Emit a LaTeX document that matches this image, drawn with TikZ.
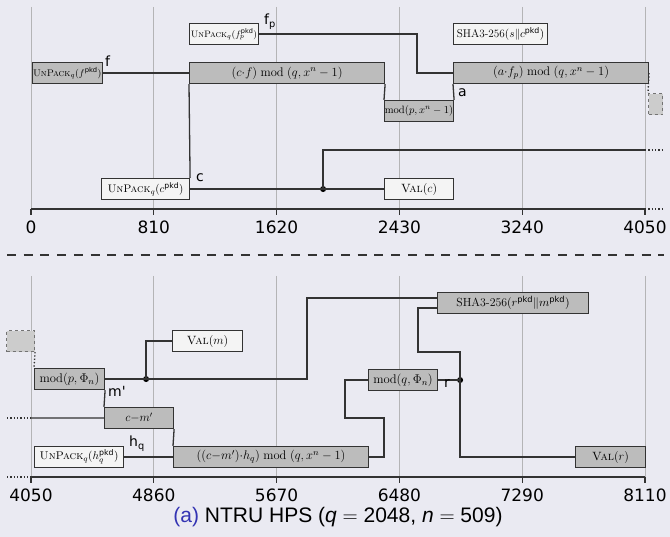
\RequirePackage{fix-cm}
\documentclass[tikz,border=0pt]{standalone}
\usepackage{fontspec}
\setsansfont{DejaVu Sans}
\newfontfamily\capfont{Liberation Sans}
\usetikzlibrary{calc}

\definecolor{bgcol}{RGB}{234,234,242}
\definecolor{gridcol}{RGB}{180,180,182}
\definecolor{opfill}{RGB}{188,188,188}
\definecolor{inwhite}{RGB}{244,244,244}
\definecolor{capblue}{RGB}{51,51,179}

\newcommand{\unpack}{\textsc{UnPack}}
\newcommand{\val}{\textsc{Val}}
\newcommand{\pkd}{\mathsf{pkd}}

\begin{document}
\begin{tikzpicture}[
    x=1pt, y=-1pt,
    wire/.style={line width=1.3pt, draw=black!80},
    opbox/.style={
        rectangle,
        draw=black!80,
        fill=opfill,
        line width=1.1pt,
        minimum height=21pt,
        inner sep=0pt,
        anchor=north west,
        font=\fontsize{12.5}{13}\selectfont
    },
    inbox/.style={opbox, fill=inwhite},
    pendbox/.style={
        rectangle,
        draw=black!55,
        fill=black!20,
        dashed,
        line width=1.1pt,
        minimum height=21pt,
        anchor=north west
    },
    fs/.style={font=\fontsize{#1}{#1}\selectfont},
    sig/.style={font=\sffamily\fontsize{14}{14}\selectfont, anchor=base west, inner sep=0pt},
    fork/.style={circle, fill=black, inner sep=0pt, minimum size=6pt},
    gridline/.style={draw=gridcol, line width=1pt},
    ticklab/.style={font=\sffamily\fontsize{17}{17}\selectfont}
]

\fill[bgcol] (0,0) rectangle (670,537);
\useasboundingbox (0,0) rectangle (670,537);

% ==================== grid and time axes ====================
\foreach \gx in {31,153.8,276.6,399.4,522.2,645} {
  \draw[gridline] (\gx,7) -- (\gx,209);
  \draw[gridline] (\gx,276) -- (\gx,477);
  \draw[wire] (\gx,209) -- ++(0,6);
  \draw[wire] (\gx,477) -- ++(0,6);
}
\foreach \gx/\lab in {31/0,153.8/810,276.6/1620,399.4/2430,522.2/3240,645/4050}
  \node[ticklab] at (\gx,227) {\lab};
\foreach \gx/\lab in {31/4050,153.8/4860,276.6/5670,399.4/6480,522.2/7290,645/8110}
  \node[ticklab] at (\gx,495) {\lab};
\draw[wire] (31,209) -- (645,209);
\draw[wire, dotted] (645,209) -- (663,209);
\draw[wire] (31,477) -- (645,477);
\draw[wire, dotted] (7,477) -- (31,477);

\draw[black!80, line width=1.1pt, dash pattern=on 9pt off 7.7pt] (7,255) -- (664,255);

% ==================== top: decryption, first half ====================
\node[opbox, minimum width=70.5pt, fs=9.6] (unpf) at (31.5,62) {$\unpack_q(f^{\pkd})$};
\node[opbox, minimum width=195pt] (cfmul) at (189,62) {$(c{\cdot}f) \bmod (q, x^n-1)$};
\node[inbox, minimum width=69pt, fs=9.3] (unpfp) at (189,23) {$\unpack_q(f_p^{\pkd})$};
\node[opbox, minimum width=69pt, fs=10.6] (modp) at (384,100) {$\mathrm{mod}(p, x^n-1)$};
\node[opbox, minimum width=195pt] (afp) at (453,62) {$(a{\cdot}f_p) \bmod (q, x^n-1)$};
\node[inbox, minimum width=94pt, fs=11.2] (shaa) at (453,23) {SHA3-256$(s\|c^{\pkd})$};
\node[inbox, minimum width=88pt, fs=11] (unpc) at (101,178) {$\unpack_q(c^{\pkd})$};
\node[inbox, minimum width=69pt, fs=12] (valc) at (384,178) {$\val(c)$};
\node[pendbox, minimum width=14pt] (nxt) at (648,93) {};
\node[fork] (cfork) at ([xshift=133pt]unpc.east) {};
\coordinate (cout) at (645,150);
\coordinate (coutend) at (663,150);

\draw[wire] (unpf.east) -- (cfmul.west);
\draw[wire] (unpfp.east) -| ([xshift=-36pt]afp.west) -- (afp.west);
\draw[wire] (cfmul.south east) -- (modp.north west);
\draw[wire] (modp.north east) -- (afp.south west);
\draw[wire] (unpc.north east) -- (cfmul.south west);
\draw[wire] (unpc.east) -- (valc.west);
\draw[wire] (cfork.center) |- (cout);
\draw[wire, dotted] (cout) -- (coutend);
\draw[wire, dotted] (afp.east) -- (nxt.north west);

\node[sig] at (105,67) {f};
\node[sig] at (264,25) {f\textsubscript{p}};
\node[sig] at (196,182) {c};
\node[sig] at (458,97) {a};

% ==================== bottom: decryption, second half ====================
\node[pendbox, minimum width=28pt] (prv) at (6,330) {};
\node[opbox, minimum width=70pt, fs=12.6] (modpf) at (34,368) {$\mathrm{mod}(p, \Phi_n)$};
\node[inbox, minimum width=70pt, fs=12] (valm) at (172,330) {$\val(m)$};
\node[opbox, minimum width=69pt, fs=12] (cmm) at (104,407) {$c{-}m'$};
\node[inbox, minimum width=89pt, fs=11.2] (unph) at (34,446) {$\unpack_q(h_q^{\pkd})$};
\node[opbox, minimum width=195pt] (hcm) at (173,446) {$((c{-}m'){\cdot}h_q) \bmod (q, x^n-1)$};
\node[opbox, minimum width=69pt, fs=12.6] (modqf) at (368,369) {$\mathrm{mod}(q, \Phi_n)$};
\node[opbox, minimum width=151pt, fs=11.8] (shab) at (437,292) {SHA3-256$(r^{\pkd}\|m^{\pkd})$};
\node[opbox, minimum width=70pt, fs=12] (valr) at (575,446) {$\val(r)$};
\node[fork] (mfork) at ([xshift=41pt]modpf.east) {};
\node[fork] (rfork) at ([xshift=22pt]modqf.east) {};
\coordinate (cin) at (31,418);
\coordinate (cstub) at (7,418);

\draw[wire, dotted] (prv.south east) -- (modpf.north west);
\draw[wire] (modpf.east) -- ++(202,0) |- ([yshift=5pt]shab.west);
\draw[wire] (mfork.center) |- (valm.west);
\draw[wire] (modpf.south east) -- (cmm.north west);
\draw[wire, dotted] (cstub) -- (cin);
\draw[wire] (cin) -- (cmm.west);
\draw[wire] (cmm.south east) -- (hcm.north west);
\draw[wire] (unph.east) -- (hcm.west);
\draw[wire] (hcm.east) -- ++(15,0) -- ++(0,-39) -- ++(-39,0) |- (modqf.west);
\draw[wire] (modqf.east) -- (rfork.center);
\draw[wire] (rfork.center) -- ++(0,-28) -| ([xshift=-19pt,yshift=-5pt]shab.west) -- ([yshift=-5pt]shab.west);
\draw[wire] (rfork.center) |- (valr.west);

\node[sig] at (108,397) {m\textquotesingle};
\node[sig] at (129,447) {h\textsubscript{q}};
\node[sig] at (444,388) {r};

% caption
\node[font=\capfont\fontsize{21}{22}\selectfont] (cap) at (338,517)
  {\textcolor{capblue}{(a)} NTRU HPS (\textit{q} $=$ 2048, \textit{n} $=$ 509)};

\end{tikzpicture}
\end{document}
